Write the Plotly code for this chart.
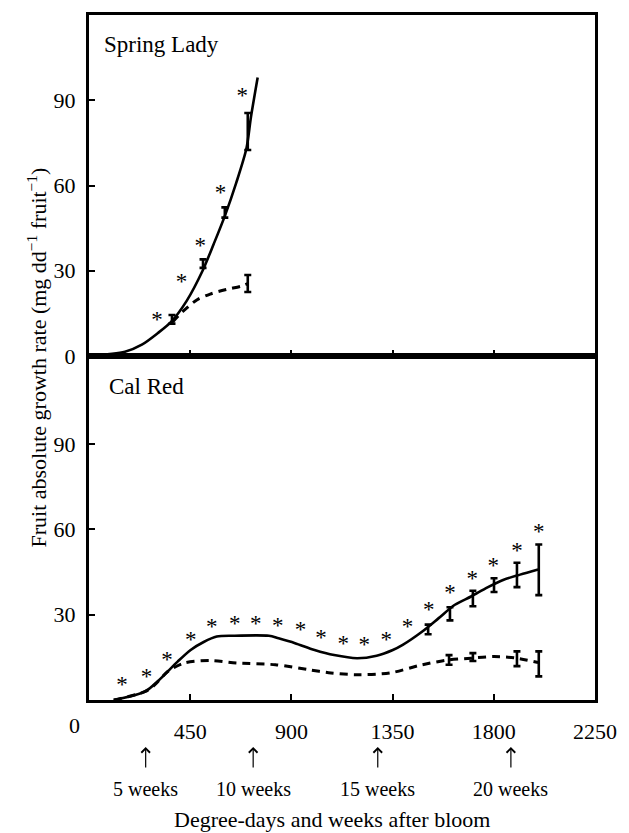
import plotly.graph_objects as go

# ---------------- data ----------------
# Spring Lady (top panel)
sl_fit_solid_x = [0, 160, 235, 305, 365, 435, 505, 555, 605, 655, 700, 720, 750]
sl_fit_solid_y = [0, 1.5, 4, 8, 12, 19.5, 30, 39.5, 49.5, 61, 73, 84, 98]
sl_fit_dash_x = [372, 416, 481, 539, 611, 677, 706]
sl_fit_dash_y = [12, 15.6, 19.8, 21.8, 23.4, 24.6, 25.5]
sl_obs_solid_x = [369, 507, 604, 706]
sl_obs_solid_y = [12.9, 32.5, 50.5, 79]
sl_obs_solid_err = [1.5, 1.5, 1.8, 6.5]
sl_obs_dash_x = [706]
sl_obs_dash_y = [25.5]
sl_obs_dash_err = [3]
sl_star_x = [302, 411, 495, 585, 681]
sl_star_y = [12.4, 25.6, 38.4, 57, 91]

# Cal Red (bottom panel)
cr_fit_solid_x = [110, 250, 307, 394, 452, 510, 568, 640, 800, 843, 916, 1003, 1090,
                  1192, 1279, 1351, 1395, 1482, 1555, 1627, 1699, 1772, 1844, 1917, 1997]
cr_fit_solid_y = [0, 3, 6.7, 13.5, 17.6, 20.4, 22.3, 22.6, 22.6, 21.7, 20, 17.6, 15.8,
                  14.7, 15.6, 17.6, 19.4, 24.1, 28.8, 33.5, 36.4, 39.6, 42.3, 44.1, 45.9]
cr_fit_dash_x = [110, 250, 292, 350, 423, 539, 655, 829, 974, 1076, 1192, 1337, 1482,
                 1598, 1699, 1801, 1903, 1997]
cr_fit_dash_y = [0, 3, 5.3, 10, 13, 13.9, 13, 12.4, 10.7, 9.5, 8.9, 9.5, 12.4,
                 14.1, 14.7, 15.3, 14.7, 13.2]
cr_obs_solid_x = [1508, 1605, 1707, 1801, 1903, 2000]
cr_obs_solid_y = [24.8, 30.3, 35.7, 40.4, 44, 45.8]
cr_obs_solid_err = [1.7, 2.3, 2.7, 2.4, 4.3, 8.9]
cr_obs_dash_x = [1601, 1707, 1903, 2000]
cr_obs_dash_y = [14.1, 15.1, 14.5, 12.7]
cr_obs_dash_err = [1.7, 1.4, 2.6, 4.4]
cr_star_x = [147, 256, 347, 452, 546, 648, 742, 839, 941, 1032, 1131, 1224, 1322,
             1416, 1511, 1605, 1704, 1798, 1903, 2000]
cr_star_y = [4.7, 7.8, 13.8, 20.8, 25.2, 26.2, 26.2, 25.6, 24.1, 21.5, 19.2, 18.8, 20.6,
             25.1, 31.2, 37.1, 42.1, 46.8, 51.8, 58.8]

x_tickvals = [450, 900, 1350, 1800, 2250]
y_tickvals_top = [0, 30, 60, 90]
y_tickvals_bottom = [30, 60, 90]
week_x = [252, 730, 1284, 1876]
week_labels = ["5 weeks", "10 weeks", "15 weeks", "20 weeks"]
panel_names = ["Spring Lady", "Cal Red"]

FONT = "Liberation Serif"
BLACK = "#000000"

fig = go.Figure()


def add_panel(xa, ya, fs_x, fs_y, fd_x, fd_y, os_x, os_y, os_e, od_x, od_y, od_e, st_x, st_y):
    fig.add_trace(go.Scatter(x=fs_x, y=fs_y, mode="lines", xaxis=xa, yaxis=ya,
                             line=dict(color=BLACK, width=2.6, shape="spline", smoothing=0.8),
                             hoverinfo="skip", showlegend=False))
    fig.add_trace(go.Scatter(x=fd_x, y=fd_y, mode="lines", xaxis=xa, yaxis=ya,
                             line=dict(color=BLACK, width=3, dash="8px,6px", shape="spline", smoothing=0.8),
                             hoverinfo="skip", showlegend=False))
    for ox, oy, oe in ((os_x, os_y, os_e), (od_x, od_y, od_e)):
        fig.add_trace(go.Scatter(x=ox, y=oy, mode="markers", xaxis=xa, yaxis=ya,
                                 marker=dict(size=1, color=BLACK),
                                 error_y=dict(type="data", array=oe, visible=True,
                                              color=BLACK, thickness=2.6, width=3.5),
                                 hoverinfo="skip", showlegend=False))
    fig.add_trace(go.Scatter(x=st_x, y=st_y, mode="text", text=["*"] * len(st_x), xaxis=xa, yaxis=ya,
                             textposition="middle center",
                             textfont=dict(family=FONT, size=23, color=BLACK),
                             hoverinfo="skip", showlegend=False))


add_panel("x2", "y2", sl_fit_solid_x, sl_fit_solid_y, sl_fit_dash_x, sl_fit_dash_y,
          sl_obs_solid_x, sl_obs_solid_y, sl_obs_solid_err,
          sl_obs_dash_x, sl_obs_dash_y, sl_obs_dash_err, sl_star_x, sl_star_y)
add_panel("x", "y", cr_fit_solid_x, cr_fit_solid_y, cr_fit_dash_x, cr_fit_dash_y,
          cr_obs_solid_x, cr_obs_solid_y, cr_obs_solid_err,
          cr_obs_dash_x, cr_obs_dash_y, cr_obs_dash_err, cr_star_x, cr_star_y)

axis_common = dict(showline=True, linecolor=BLACK, linewidth=3, mirror=True,
                   ticks="inside", ticklen=6, tickwidth=2, tickcolor=BLACK,
                   showgrid=False, zeroline=False,
                   tickfont=dict(family=FONT, size=22, color=BLACK))

split = 0.5022
fig.update_layout(
    width=629, height=833,
    margin=dict(l=89, r=23, t=15, b=133),
    paper_bgcolor="white", plot_bgcolor="white",
    showlegend=False,
    font=dict(family=FONT, color=BLACK),
    xaxis=dict(range=[0, 2250], tickvals=x_tickvals, ticktext=[str(v) for v in x_tickvals],
               anchor="y", domain=[0, 1], ticklabelstandoff=10, **axis_common),
    xaxis2=dict(range=[0, 2250], tickvals=x_tickvals, showticklabels=False, matches="x",
                anchor="y2", domain=[0, 1], **axis_common),
    yaxis=dict(range=[0, 121], tickvals=y_tickvals_bottom, domain=[0, split], anchor="x",
               ticklabelstandoff=6, **axis_common),
    yaxis2=dict(range=[0, 120], tickvals=y_tickvals_top, domain=[split, 1], anchor="x2",
                ticklabelstandoff=6, **axis_common),
)

annotations = []
# x "0" label (offset left of the axis corner)
annotations.append(dict(text="0", x=0, xref="x", y=-0.0365, yref="paper", xshift=-15,
                        showarrow=False, xanchor="center", yanchor="middle",
                        font=dict(family=FONT, size=22, color=BLACK)))
# panel names
annotations.append(dict(text=panel_names[0], x=0.026, xref="paper", y=0.957, yref="paper",
                        showarrow=False, xanchor="left", yanchor="middle",
                        font=dict(family=FONT, size=23, color=BLACK)))
annotations.append(dict(text=panel_names[1], x=0.036, xref="paper", y=0.457, yref="paper",
                        showarrow=False, xanchor="left", yanchor="middle",
                        font=dict(family=FONT, size=23, color=BLACK)))
# week arrows + labels
for wx, wl in zip(week_x, week_labels):
    annotations.append(dict(text="", x=wx, xref="x", y=-0.0686, yref="paper",
                            showarrow=True, ax=0, ay=22, arrowhead=4, arrowsize=1.4,
                            arrowwidth=1.2, arrowcolor=BLACK))
    annotations.append(dict(text=wl, x=wx, xref="x", y=-0.1294, yref="paper",
                            showarrow=False, xanchor="center", yanchor="middle",
                            font=dict(family=FONT, size=20, color=BLACK)))
# axis titles
annotations.append(dict(text="Degree-days and weeks after bloom", x=0.48, xref="paper",
                        y=-0.175, yref="paper", showarrow=False, xanchor="center",
                        yanchor="middle", font=dict(family=FONT, size=22, color=BLACK)))
annotations.append(dict(text="Fruit absolute growth rate (mg dd<sup>−1</sup> fruit<sup>−1</sup>)",
                        x=0, xref="paper", xshift=-53, y=0.5, yref="paper", textangle=-90,
                        showarrow=False, xanchor="center", yanchor="middle",
                        font=dict(family=FONT, size=22, color=BLACK)))
fig.update_layout(annotations=annotations)

fig.write_html("out.html")
